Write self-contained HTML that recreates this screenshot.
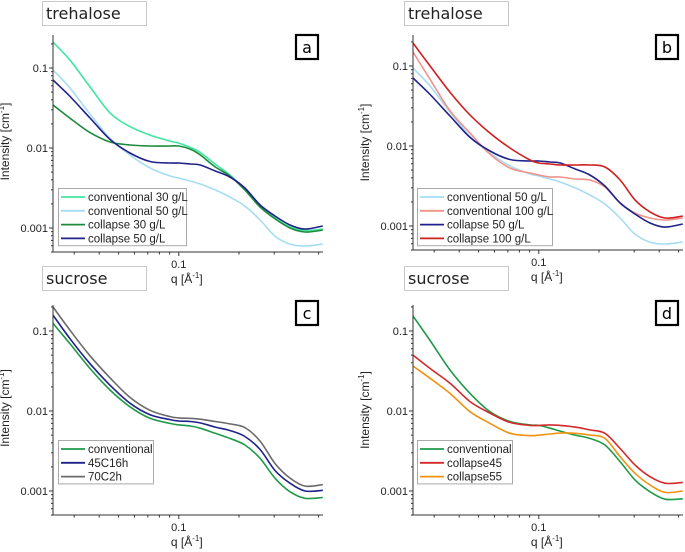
<!DOCTYPE html>
<html><head><meta charset="utf-8"><style>
body{margin:0;background:#fff;width:685px;height:552px;overflow:hidden;font-family:"Liberation Sans",sans-serif}
svg{display:block}
</style></head><body>
<svg id="fig" width="685" height="552" viewBox="0 0 685 552"></svg>
<script>
const qGrid=[0.0235,0.0286,0.036,0.0453,0.057,0.0718,0.0904,0.1,0.114,0.128,0.152,0.18,0.214,0.255,0.303,0.36,0.428,0.525];
// panel a
const aConv30=[0.211,0.125,0.058,0.0275,0.0185,0.0145,0.0122,0.0115,0.0102,0.0088,0.0063,0.0046,0.00299,0.00183,0.00133,0.00103,0.00093,0.00097];
const aConv50=[0.0944,0.056,0.0265,0.0132,0.00818,0.00562,0.00447,0.00422,0.00387,0.00355,0.00299,0.00244,0.00188,0.00126,0.00079,0.00063,0.000596,0.00063];
const aCol30=[0.0345,0.0235,0.0156,0.0119,0.0109,0.0106,0.0106,0.0106,0.0097,0.0082,0.0058,0.00447,0.00299,0.00183,0.0013,0.001,0.00089,0.00094];
const aCol50=[0.0708,0.044,0.0237,0.0128,0.00866,0.00678,0.00649,0.00649,0.00631,0.00613,0.00516,0.00434,0.00316,0.00194,0.00141,0.00109,0.00097,0.00106];
// panel b
const bConv100=[0.15,0.068,0.0275,0.0145,0.0079,0.0053,0.0046,0.00434,0.0041,0.0041,0.00387,0.00376,0.00307,0.00194,0.00145,0.00126,0.00119,0.00126];
const bCol100=[0.194,0.1,0.047,0.0244,0.0145,0.00944,0.00668,0.00613,0.00596,0.00579,0.00579,0.00579,0.00546,0.00376,0.00211,0.0015,0.00126,0.00133];
// panel c
const cConv=[0.125,0.069,0.034,0.0183,0.0113,0.0081,0.007,0.0067,0.0065,0.0061,0.00526,0.00455,0.00376,0.00256,0.00144,0.00098,0.00081,0.00083];
const c45C16h=[0.158,0.08,0.039,0.021,0.0125,0.009,0.0078,0.0075,0.0074,0.0071,0.0063,0.0057,0.0048,0.0033,0.0018,0.00125,0.001,0.00102];
const c70C2h=[0.2,0.102,0.049,0.026,0.0148,0.0102,0.0085,0.0082,0.0081,0.0079,0.0074,0.0069,0.0062,0.0042,0.0022,0.00145,0.00115,0.0012];
// panel d
const dConv=[0.154,0.076,0.0325,0.0166,0.0098,0.0074,0.0067,0.0066,0.0061,0.0056,0.005,0.00455,0.00376,0.00233,0.00137,0.00098,0.00079,0.0008];
const dCol45=[0.05,0.034,0.0222,0.0131,0.0094,0.0072,0.0066,0.0066,0.0067,0.0066,0.0063,0.0058,0.00526,0.0034,0.00211,0.00151,0.00125,0.00128];
const dCol55=[0.0365,0.0256,0.0166,0.0098,0.007,0.00526,0.00492,0.005,0.00516,0.0053,0.00526,0.005,0.00455,0.00268,0.00166,0.00119,0.00096,0.001];
const yTickVals=[0.1,0.01,0.001];
const yTickLabels=["0.1","0.01","0.001"];

const NS="http://www.w3.org/2000/svg";
const svg=document.getElementById('fig');
function mk(tag,attrs,parent){const e=document.createElementNS(NS,tag);for(const k in attrs)e.setAttribute(k,attrs[k]);(parent||svg).appendChild(e);return e;}
const QMIN=0.0235,DEC_X=200,DEC_Y=80;
function smoothPath(pts){
 let d='M'+pts[0][0].toFixed(1)+','+pts[0][1].toFixed(1);
 for(let i=0;i<pts.length-1;i++){
  const p0=pts[Math.max(0,i-1)],p1=pts[i],p2=pts[i+1],p3=pts[Math.min(pts.length-1,i+2)];
  const c1=[p1[0]+(p2[0]-p0[0])/6,p1[1]+(p2[1]-p0[1])/6];
  const c2=[p2[0]-(p3[0]-p1[0])/6,p2[1]-(p3[1]-p1[1])/6];
  d+=' C'+c1[0].toFixed(1)+','+c1[1].toFixed(1)+' '+c2[0].toFixed(1)+','+c2[1].toFixed(1)+' '+p2[0].toFixed(1)+','+p2[1].toFixed(1);
 }
 return d;
}

const panels=[
 {id:'a',left:53,top:35,bottom:252,y01:68,title:'trehalose',tbox:[42,1,104,24],lbox:[295,34],legend:[58,188,128],
  series:[['conventional 30 g/L',aConv30,'#3fe6a2'],['conventional 50 g/L',aConv50,'#a6ddf3'],['collapse 30 g/L',aCol30,'#1d8a3e'],['collapse 50 g/L',aCol50,'#1f2288']]},
 {id:'b',left:413,top:35,bottom:250,y01:66,title:'trehalose',tbox:[404,1,104,24],lbox:[655,34],legend:[417,188,135],
  series:[['conventional 50 g/L',aConv50,'#a6ddf3'],['conventional 100 g/L',bConv100,'#f0918c'],['collapse 50 g/L',aCol50,'#1f2288'],['collapse 100 g/L',bCol100,'#d01f1f']]},
 {id:'c',left:53,top:305,bottom:515,y01:331,title:'sucrose',tbox:[42,266,104,24],lbox:[295,300],legend:[58,440,95],
  series:[['conventional',cConv,'#1e9a48'],['45C16h',c45C16h,'#1f2288'],['70C2h',c70C2h,'#6b6b6b']]},
 {id:'d',left:413,top:305,bottom:515,y01:331,title:'sucrose',tbox:[404,266,104,24],lbox:[655,300],legend:[417,440,95],
  series:[['conventional',dConv,'#1e9a48'],['collapse45',dCol45,'#d4282a'],['collapse55',dCol55,'#f0920f']]}
];

panels.forEach(p=>{
 const xs=q=>p.left+(Math.log10(q)-Math.log10(QMIN))*DEC_X;
 const ys=v=>p.y01+(Math.log10(0.1)-Math.log10(v))*DEC_Y;
 const right=p.left+270;
 const g=mk('g',{});
 
 
 const tb=mk('g',{},g);
 
 
 mk('rect',{x:p.tbox[0]+0.5,y:p.tbox[1]+0.5,width:p.tbox[2],height:p.tbox[3],fill:'#fff',stroke:'#c8c8c8'},tb);
 const tt=mk('text',{x:p.tbox[0]+4,y:p.tbox[1]+18,'font-size':'16','font-family':'"DejaVu Sans","Liberation Sans",sans-serif',fill:'#222'},tb);tt.textContent=p.title;
 const lb=mk('g',{},g);
 
 
 mk('rect',{x:p.lbox[0]+1,y:p.lbox[1]+1,width:22,height:24,fill:'#fff',stroke:'#000','stroke-width':2.2},lb);
 const lt=mk('text',{x:p.lbox[0]+12,y:p.lbox[1]+19,'font-size':'16','text-anchor':'middle','font-family':'"DejaVu Sans","Liberation Sans",sans-serif'},lb);lt.textContent=p.id;
 const cp=mk('clipPath',{id:'clip'+p.id},g);
 mk('rect',{x:p.left,y:p.top,width:270,height:p.bottom-p.top},cp);
 p.series.forEach(s=>{
  const pts=qGrid.map((q,i)=>[xs(q),ys(s[1][i])]);
  const path=mk('path',{d:smoothPath(pts),fill:'none',stroke:s[2],'stroke-width':1.6,'stroke-linejoin':'round','clip-path':'url(#clip'+p.id+')'},g);
  
  
 });
 const ax=mk('g',{stroke:'#333','stroke-width':1},g);
 
 
 mk('line',{x1:p.left,y1:p.top,x2:p.left,y2:p.bottom},ax);
 mk('line',{x1:p.left,y1:p.bottom,x2:right,y2:p.bottom},ax);
 for(let e=-4;e<=0;e++){for(let m=1;m<10;m++){const v=m*Math.pow(10,e);const y=ys(v);if(y<p.top-0.5||y>p.bottom+0.5)continue;
   mk('line',{x1:p.left,y1:y,x2:p.left-(m===1?4:2),y2:y},ax);}}
 yTickVals.forEach((v,i)=>{const t=mk('text',{x:p.left-5,y:ys(v)+4,'font-size':'11','text-anchor':'end',fill:'#222'},g);t.textContent=yTickLabels[i];
  
  });
 [0.03,0.04,0.05,0.06,0.07,0.08,0.09,0.1,0.2,0.3,0.4,0.5].forEach(q=>{const x=xs(q);if(x>right+0.5)return;
   mk('line',{x1:x,y1:p.bottom,x2:x,y2:p.bottom+(q===0.1?4:2.5)},ax);});
 const xl=mk('text',{x:xs(0.1),y:p.bottom+16,'font-size':'11','text-anchor':'middle',fill:'#222'},g);xl.textContent='0.1';
 
 
 const xt=mk('text',{x:xs(0.1)+8,y:p.bottom+31,'font-size':'12','text-anchor':'middle',fill:'#222'},g);
 xt.innerHTML='q [Å<tspan dy="-5" font-size="8">-1</tspan><tspan dy="5">]</tspan>';
 
 
 const cy=(p.top+p.bottom)/2+(p.id==='a'||p.id==='c'?-2:0);
 const yt=mk('text',{x:0,y:0,transform:`translate(${p.left-44},${cy}) rotate(-90)`,'font-size':'12','text-anchor':'middle',fill:'#222'},g);
 yt.innerHTML='Intensity [cm<tspan dy="-5" font-size="8">-1</tspan><tspan dy="5">]</tspan>';
 
 
 const L=p.legend,n=p.series.length;
 const lg=mk('g',{},g);
 
 
 mk('rect',{x:L[0]+0.5,y:L[1]+0.5,width:L[2],height:n*13.8+2,fill:'#fff',stroke:'#aaa'},lg);
 p.series.forEach((s,i)=>{const y=L[1]+9+i*13.8;
  const le=mk('g',{},lg);
  
  
  mk('line',{x1:L[0]+3,y1:y,x2:L[0]+27,y2:y,stroke:s[2],'stroke-width':1.8},le);
  const t=mk('text',{x:L[0]+30,y:y+4,'font-size':'11.5',fill:'#222'},le);t.textContent=s[0];});
});
</script>
</body></html>
